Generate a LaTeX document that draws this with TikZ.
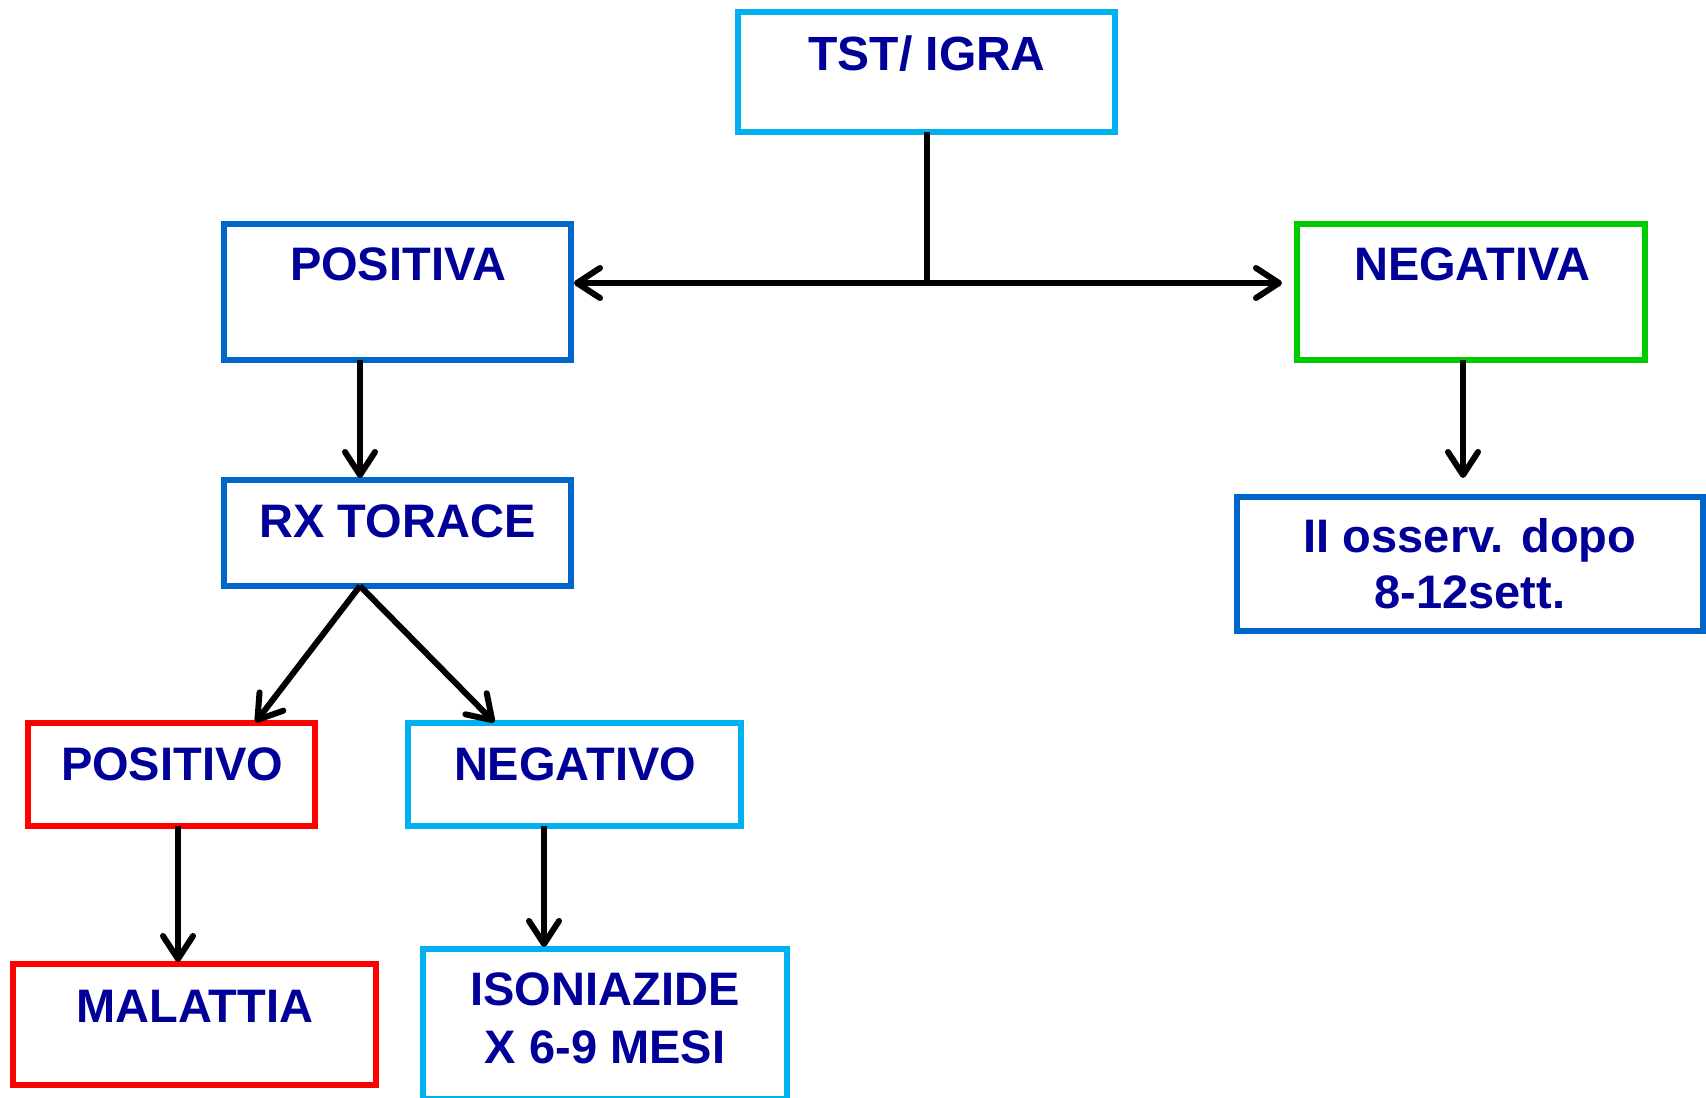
\documentclass[tikz,border=0pt]{standalone}
\usepackage{fontspec}
\setmainfont{Liberation Sans}
\usetikzlibrary{arrows.meta}

\definecolor{boxcyan}{HTML}{00B0F0}
\definecolor{boxblue}{HTML}{0066CC}
\definecolor{boxgreen}{HTML}{00CC00}
\definecolor{boxred}{HTML}{FF0000}
\definecolor{textnavy}{HTML}{000099}

\tikzset{
  frame/.style={draw=#1, line width=5.5pt, rectangle, inner sep=0pt, outer sep=0pt},
  lbl/.style={anchor=base, text=textnavy, inner sep=0pt,
    font=\bfseries\fontsize{47}{56}\selectfont},
  conn/.style={draw=black, line width=6pt,
    -{Straight Barb[length=23pt,width=30pt,line cap=round,line join=round]}},
  plain/.style={draw=black, line width=6pt}
}

\begin{document}
\begin{tikzpicture}[x=1pt, y=-1pt]
  \useasboundingbox (0,0) rectangle (1706,1098);

  % boxes (centre, size of the border line)
  \node[frame=boxcyan,  minimum width=377pt, minimum height=120pt] (tst)  at (926.5,72)   {};
  \node[frame=boxblue,  minimum width=347pt, minimum height=136pt] (posA) at (397.5,292)  {};
  \node[frame=boxgreen, minimum width=348pt, minimum height=136pt] (negA) at (1471,292)   {};
  \node[frame=boxblue,  minimum width=347pt, minimum height=106pt] (rx)   at (397.5,533)  {};
  \node[frame=boxblue,  minimum width=466pt, minimum height=134pt] (oss)  at (1470,564)   {};
  \node[frame=boxred,   minimum width=287pt, minimum height=103pt] (posO) at (171.5,774.5){};
  \node[frame=boxcyan,  minimum width=333pt, minimum height=103pt] (negO) at (574.5,774.5){};
  \node[frame=boxred,   minimum width=363pt, minimum height=121pt] (mal)  at (194.5,1024.5){};
  \node[frame=boxcyan,  minimum width=364pt, minimum height=150pt] (iso)  at (605,1024)   {};

  % labels, placed on their baselines
  \node[lbl, font=\bfseries\fontsize{48}{56}\selectfont] (tstT) at (927,70) {TST/ IGRA};
  \node[lbl] (posAT) at (398,280)  {POSITIVA};
  \node[lbl] (negAT) at (1472,280) {NEGATIVA};
  \node[lbl] (rxT)   at (397.5,537) {RX TORACE};
  \node[lbl] (ossT1) at (1470,552) {II osserv. dopo};
  \node[lbl] (ossT2) at (1470,608) {8-12sett.};
  \node[lbl] (posOT) at (172,780)  {POSITIVO};
  \node[lbl] (negOT) at (575,780)  {NEGATIVO};
  \node[lbl] (malT)  at (195,1022) {MALATTIA};
  \node[lbl] (isoT1) at (605,1005) {ISONIAZIDE};
  \node[lbl] (isoT2) at (605,1063) {X 6-9 MESI};

  % reference columns for the connectors
  \coordinate (J)    at (927,283);
  \coordinate (c360) at (360,0);
  \coordinate (c1463) at (1463,0);
  \coordinate (c255) at (255,0);
  \coordinate (c495) at (495,0);
  \coordinate (c178) at (178,0);
  \coordinate (c544) at (544,0);

  % connectors
  \draw[plain] (tst.south -| J) -- (J);
  \draw[conn, shorten >=3pt]  (J) -- (posA.east |- J);
  \draw[conn, shorten >=15pt] (J) -- (negA.west |- J);
  \draw[conn, shorten >=2pt]  (posA.south -| c360) -- (rx.north -| c360);
  \draw[conn, shorten >=19pt] (negA.south -| c1463) -- (oss.north -| c1463);
  \draw[conn, shorten >=1pt]  (rx.south -| c360) -- (posO.north -| c255);
  \draw[conn, shorten >=1pt]  (rx.south -| c360) -- (negO.north -| c495);
  \draw[conn, shorten >=2pt]  (posO.south -| c178) -- (mal.north -| c178);
  \draw[conn, shorten >=2pt]  (negO.south -| c544) -- (iso.north -| c544);
\end{tikzpicture}
\end{document}
